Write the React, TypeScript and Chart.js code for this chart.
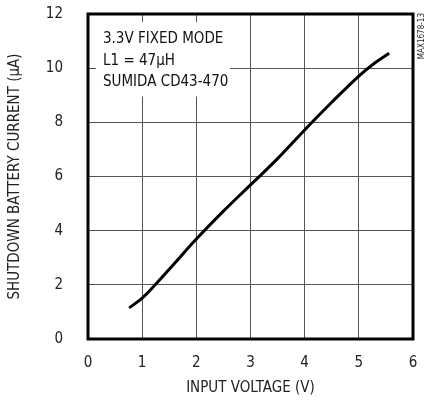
import React, { useEffect, useRef } from "react";
import { Chart, registerables } from "chart.js";

Chart.register(...registerables);

const inputVoltage = [0.76, 1.0, 1.24, 1.6, 2.0, 2.5, 3.0, 3.5, 4.0, 4.5, 5.0, 5.3, 5.56];
const shutdownCurrent = [1.15, 1.51, 2.0, 2.8, 3.69, 4.72, 5.69, 6.66, 7.72, 8.74, 9.71, 10.2, 10.55];
const xTicks = [0, 1, 2, 3, 4, 5, 6];
const yTicks = [0, 2, 4, 6, 8, 10, 12];
const noteLines = ["3.3V FIXED MODE", "L1 = 47\u00B5H", "SUMIDA CD43-470"];
const xTitle = "INPUT VOLTAGE (V)";
const yTitle = "SHUTDOWN BATTERY CURRENT (\u00B5A)";
const figId = "MAX1678-13";

const FONT = "'Liberation Sans Narrow', 'DejaVu Sans Condensed', 'Liberation Sans', sans-serif";

const framePlugin = {
  id: "framePlugin",
  beforeDatasetsDraw(chart: any) {
    const { ctx, scales } = chart;
    const x = scales.x, y = scales.y;
    ctx.save();
    const left = x.getPixelForValue(0) + 8;
    const right = x.getPixelForValue(2.62);
    const top = y.getPixelForValue(11.7);
    const bottom = y.getPixelForValue(8.95);
    ctx.fillStyle = "#ffffff";
    ctx.fillRect(left, top, right - left, bottom - top);
    ctx.fillStyle = "#111";
    ctx.font = "15px " + FONT;
    ctx.textBaseline = "middle";
    ctx.textAlign = "left";
    const tx = x.getPixelForValue(0) + 15;
    noteLines.forEach((t, i) => {
      ctx.fillText(t, tx, top + 17 + i * 21.5);
    });
    ctx.restore();
  },
  afterDatasetsDraw(chart: any) {
    const { ctx, chartArea } = chart;
    ctx.save();
    ctx.strokeStyle = "#000";
    ctx.lineWidth = 3;
    ctx.strokeRect(chartArea.left, chartArea.top, chartArea.right - chartArea.left, chartArea.bottom - chartArea.top);
    ctx.translate(chartArea.right + 8.5, chartArea.top - 1);
    ctx.rotate(-Math.PI / 2);
    ctx.fillStyle = "#222";
    ctx.font = "8px " + FONT;
    ctx.textAlign = "right";
    ctx.textBaseline = "middle";
    ctx.fillText(figId, 0, 0);
    ctx.restore();
  },
};

export default function App() {
  const ref = useRef<HTMLCanvasElement | null>(null);
  useEffect(() => {
    document.body.style.margin = "0";
    const canvas = ref.current;
    if (!canvas) return;
    const chart = new Chart(canvas, {
      type: "scatter",
      data: {
        datasets: [
          {
            data: inputVoltage.map((v, i) => ({ x: v, y: shutdownCurrent[i] })),
            showLine: true,
            borderColor: "#000",
            borderWidth: 3,
            pointRadius: 0,
            tension: 0.4,
            fill: false,
          },
        ],
      },
      options: {
        responsive: false,
        animation: false,
        events: [],
        layout: { padding: { left: 0, top: 14, right: 14, bottom: 0 } },
        plugins: { legend: { display: false }, tooltip: { enabled: false } },
        scales: {
          x: {
            type: "linear",
            min: 0,
            max: 6,
            afterBuildTicks: (s: any) => { s.ticks = xTicks.map((v) => ({ value: v })); },
            afterFit: (s: any) => { s.height = 62; s.paddingLeft = 0; s.paddingRight = 0; },
            grid: { color: "#555", lineWidth: 1, drawTicks: false },
            border: { display: false },
            ticks: { color: "#222", padding: 15, font: { family: FONT, size: 15 } },
            title: { display: true, text: xTitle, color: "#222", font: { family: FONT, size: 15 }, padding: { top: 0, bottom: 4 } },
          },
          y: {
            type: "linear",
            min: 0,
            max: 12,
            afterBuildTicks: (s: any) => { s.ticks = yTicks.map((v) => ({ value: v })); },
            afterFit: (s: any) => { s.width = 88; s.paddingTop = 0; s.paddingBottom = 0; },
            grid: { color: "#555", lineWidth: 1, drawTicks: false },
            border: { display: false },
            ticks: { color: "#222", padding: 25, font: { family: FONT, size: 15 } },
            title: { display: true, text: yTitle, color: "#222", font: { family: FONT, size: 15 }, padding: { top: 6, bottom: 0 } },
          },
        },
      },
      plugins: [framePlugin],
    } as any);
    return () => chart.destroy();
  }, []);
  return <canvas ref={ref} width={427} height={401} style={{ display: "block", width: 427, height: 401 }} />;
}
